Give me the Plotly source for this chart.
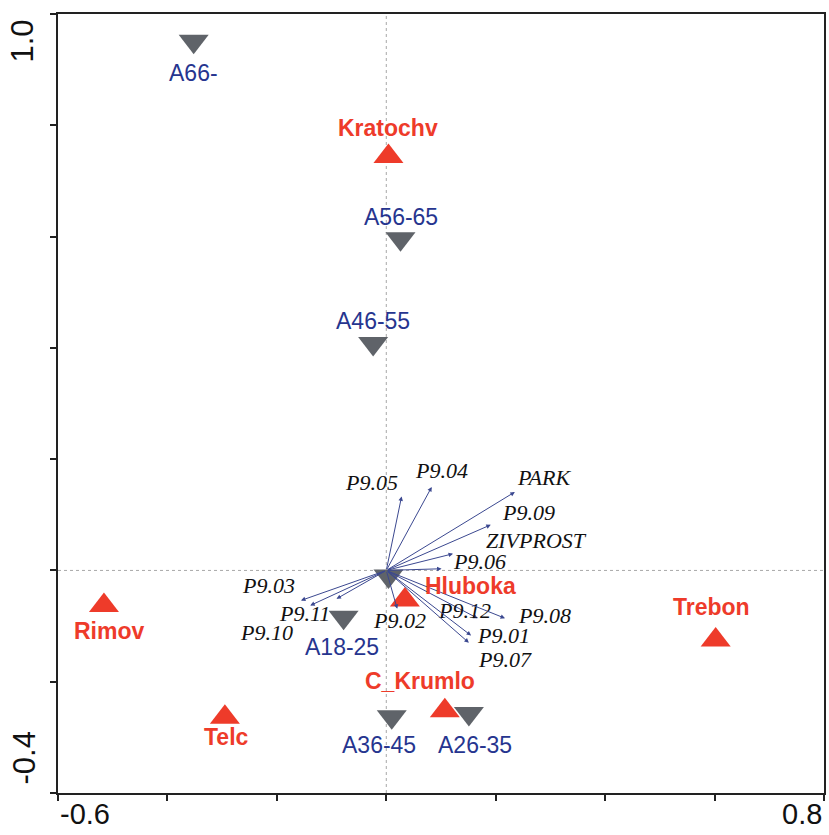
import plotly.graph_objects as go

# ---- data ----
site_names = ["Kratochv", "Hluboka", "Rimov", "Telc", "C_Krumlo", "Trebon"]
site_x = [0.004, 0.034, -0.516, -0.295, 0.107, 0.602]
site_y = [0.744, -0.053, -0.063, -0.264, -0.252, -0.125]

age_names = ["A66-", "A56-65", "A46-55", "", "A18-25", "A36-45", "A26-35"]
age_x = [-0.352, 0.026, -0.024, 0.004, -0.078, 0.010, 0.151]
age_y = [0.951, 0.596, 0.408, -0.010, -0.084, -0.263, -0.257]

var_names = ["P9.05", "P9.04", "PARK", "P9.09", "ZIVPROST", "P9.06", "P9.03",
             "P9.10", "P9.11", "P9.02", "P9.12", "P9.08", "P9.01", "P9.07"]
var_x = [0.028, 0.083, 0.235, 0.191, 0.122, 0.101, -0.156,
         -0.139, -0.091, 0.020, 0.167, 0.217, 0.155, 0.151]
var_y = [0.133, 0.150, 0.141, 0.082, 0.030, 0.003, -0.054,
         -0.063, -0.051, -0.069, -0.086, -0.086, -0.117, -0.130]

x_tick_labels = ["-0.6", "0.8"]
y_tick_labels = ["1.0", "-0.4"]

# ---- label offsets (pixels: dx right, dy up) ----
site_off = [(0, 28), (66, 14), (6, -26), (2, -20), (-25, 30), (-4, 33)]
age_off = [(0, -32), (0, 22), (0, 22), (0, 0), (-2, -30), (-13, -28), (6, -32)]
var_off = [(-30, 14), (10, 16), (29, 14), (38, 12), (83, 13), (38, 7), (-32, 15),
           (-44, -27), (-32, -15), (2, -12), (-13, 8), (39, 3), (32, 0), (36, -17)]

RED = "#ee3b2a"
GRAY = "#5f6369"
NAVY = "#26358f"
ARROW = "#3b4890"

fig = go.Figure()

# zero reference lines
fig.add_shape(type="line", x0=0, x1=0, y0=-0.4, y1=1.0, xref="x", yref="y",
              line=dict(color="#a8a8a8", width=1, dash="dot"), layer="below")
fig.add_shape(type="line", x0=-0.6, x1=0.8, y0=0, y1=0, xref="x", yref="y",
              line=dict(color="#a8a8a8", width=1, dash="dot"), layer="below")

annotations = []
# arrows for variables
for name, x, y, (dx, dy) in zip(var_names, var_x, var_y, var_off):
    annotations.append(dict(x=x, y=y, ax=0, ay=0, xref="x", yref="y", axref="x", ayref="y",
                            showarrow=True, arrowhead=2, arrowsize=0.9, arrowwidth=1,
                            arrowcolor=ARROW, text=""))
    annotations.append(dict(x=x, y=y, xref="x", yref="y", text=name, showarrow=False,
                            xshift=dx, yshift=dy,
                            font=dict(family="Liberation Serif", size=22, color="#111111",
                                      style="italic")))

fig.add_trace(go.Scatter(x=age_x, y=age_y, mode="markers",
                         marker=dict(symbol="triangle-down", size=26, color=GRAY),
                         hoverinfo="skip", showlegend=False))
fig.add_trace(go.Scatter(x=site_x, y=site_y, mode="markers",
                         marker=dict(symbol="triangle-up", size=26, color=RED),
                         hoverinfo="skip", showlegend=False))

for name, x, y, (dx, dy) in zip(site_names, site_x, site_y, site_off):
    annotations.append(dict(x=x, y=y, xref="x", yref="y", text="<b>%s</b>" % name,
                            showarrow=False, xshift=dx, yshift=dy,
                            font=dict(family="Liberation Sans", size=23, color=RED)))
for name, x, y, (dx, dy) in zip(age_names, age_x, age_y, age_off):
    if name:
        annotations.append(dict(x=x, y=y, xref="x", yref="y", text=name,
                                showarrow=False, xshift=dx, yshift=dy,
                                font=dict(family="Liberation Sans", size=23, color=NAVY)))

# end tick labels
axfont = dict(family="Liberation Sans", size=29, color="#111111")
annotations.append(dict(x=-0.6, y=0, xref="x", yref="paper", text=x_tick_labels[0],
                        showarrow=False, xanchor="left", yanchor="top", yshift=-3, font=axfont))
annotations.append(dict(x=0.8, y=0, xref="x", yref="paper", text=x_tick_labels[1],
                        showarrow=False, xanchor="right", yanchor="top", yshift=-3, font=axfont))
annotations.append(dict(x=0, y=1.0, xref="paper", yref="y", text=y_tick_labels[0],
                        showarrow=False, xanchor="center", yanchor="top", xshift=-36,
                        yshift=-4, textangle=-90, font=dict(axfont, size=31)))
annotations.append(dict(x=0, y=-0.4, xref="paper", yref="y", text=y_tick_labels[1],
                        showarrow=False, xanchor="center", yanchor="bottom", xshift=-34,
                        yshift=6, textangle=-90, font=dict(axfont, size=31)))

tick = [-0.6 + 0.2 * i for i in range(8)]
ytick = [-0.4 + 0.2 * i for i in range(8)]
fig.update_layout(
    width=829, height=835,
    margin=dict(l=58, r=3, t=14, b=42),
    paper_bgcolor="white", plot_bgcolor="white",
    annotations=annotations,
    xaxis=dict(range=[-0.6, 0.8], showgrid=False, zeroline=False, showline=True,
               mirror=True, linecolor="#222222", linewidth=2, ticks="outside",
               ticklen=6, tickwidth=2, tickcolor="#222222", tickvals=tick,
               showticklabels=False),
    yaxis=dict(range=[-0.4, 1.0], showgrid=False, zeroline=False, showline=True,
               mirror=True, linecolor="#222222", linewidth=2, ticks="outside",
               ticklen=6, tickwidth=2, tickcolor="#222222", tickvals=ytick,
               showticklabels=False),
)

fig.write_html("out.html")
